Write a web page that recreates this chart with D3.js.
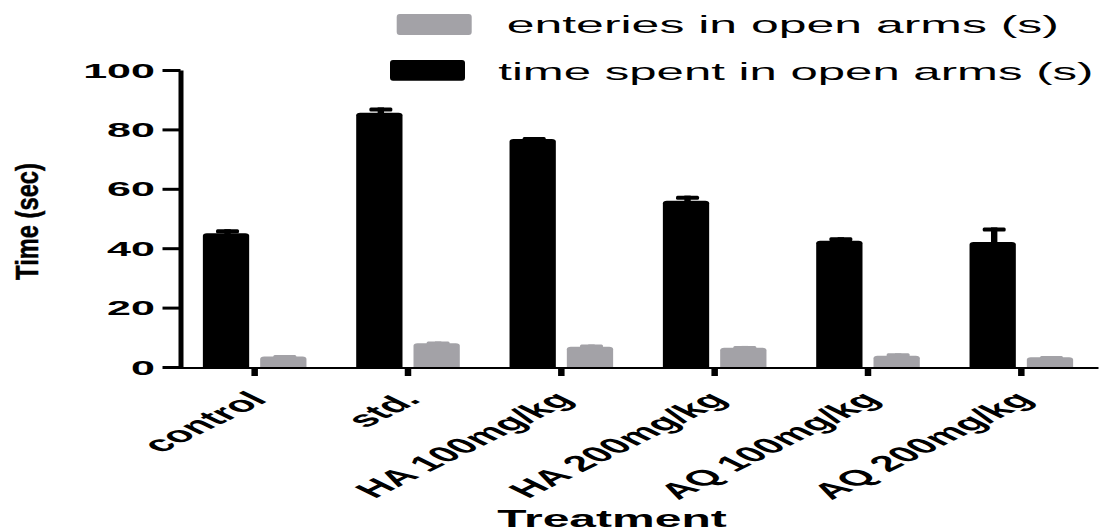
<!DOCTYPE html>
<html>
<head>
<meta charset="utf-8">
<script src="https://cdn.jsdelivr.net/npm/d3@7/dist/d3.min.js"></script>
<style>
  html, body { margin: 0; padding: 0; background: #fff; }
  svg { display: block; }
  text { font-family: "Liberation Sans", Arial, Helvetica, sans-serif; fill: #000; }
</style>
</head>
<body>
<svg id="chart" width="1109" height="530"></svg>
<script>
// Elevated plus maze results per treatment group (mean with SEM)
const categories = ["control", "std.", "HA 100mg/kg", "HA 200mg/kg", "AQ 100mg/kg", "AQ 200mg/kg"];
const timeSpent = [45.0, 85.6, 76.8, 56.0, 42.5, 42.1];
const timeSpentErr = [1.4, 1.8, 0.6, 1.7, 1.2, 4.9];
const entries = [3.5, 8.0, 6.8, 6.5, 3.8, 3.3];
const entriesErr = [0.5, 0.6, 0.8, 0.6, 0.8, 0.4];
const yTicks = [0, 20, 40, 60, 80, 100];
const seriesKeys = ["time", "entries"];
const legendLabels = ["enteries in open arms (s)", "time spent in open arms (s)"];
const xTitle = "Treatment";
const yTitle = "Time (sec)";

const colors = { time: "#000000", entries: "#a3a2a7" };
const SX = 2.05; // wide horizontal text aspect used throughout the figure

const svg = d3.select("#chart");

const x = d3.scaleBand().domain(categories).range([178, 1098]).padding(0);
const x1 = d3.scaleBand().domain(seriesKeys).range([0, x.bandwidth()])
  .paddingInner(0.192).paddingOuter(0.434);
const y = d3.scaleLinear().domain([0, 100]).range([367, 70]);

const rows = categories.map((c, i) => ({
  cat: c,
  time: { v: timeSpent[i], e: timeSpentErr[i] },
  entries: { v: entries[i], e: entriesErr[i] }
}));

// Bar shape with softly rounded top corners
function barPath(x0, y0, w, h, rx, ry) {
  return `M${x0},${y0 + h}V${y0 + ry}Q${x0},${y0} ${x0 + rx},${y0}` +
         `H${x0 + w - rx}Q${x0 + w},${y0} ${x0 + w},${y0 + ry}V${y0 + h}Z`;
}

const groups = svg.append("g").selectAll("g")
  .data(rows).join("g")
  .attr("transform", d => `translate(${x(d.cat)},0)`);

seriesKeys.forEach(k => {
  // bars
  groups.append("path")
    .attr("fill", colors[k])
    .attr("d", d => barPath(x1(k), y(d[k].v), x1.bandwidth(), y(0) - y(d[k].v), 4, 2.5));
  // error bar stem (upper half only)
  groups.append("rect")
    .attr("fill", colors[k])
    .attr("x", x1(k) + x1.bandwidth() / 2 + 1.5 - 3.2)
    .attr("width", 6.4)
    .attr("y", d => y(d[k].v + d[k].e))
    .attr("height", d => y(d[k].v) - y(d[k].v + d[k].e) + 1);
  // error bar cap
  groups.append("rect")
    .attr("fill", colors[k])
    .attr("x", x1(k) + x1.bandwidth() / 2 + 1.5 - 11.5)
    .attr("width", 23)
    .attr("y", d => y(d[k].v + d[k].e))
    .attr("height", 4)
    .attr("rx", 1.5);
});

// X axis
const xAxis = svg.append("g")
  .attr("transform", `translate(0,${y(0) + 0.5})`)
  .call(d3.axisBottom(x).tickSize(8.5).tickSizeOuter(0).tickFormat(""));
xAxis.select(".domain").attr("stroke", "#000").attr("stroke-width", 2);
xAxis.selectAll(".tick line").attr("stroke", "#000").attr("stroke-width", 6.5);

// Y axis
const yAxis = svg.append("g")
  .attr("transform", "translate(180.5,0)")
  .call(d3.axisLeft(y).tickValues(yTicks).tickSize(18).tickSizeOuter(0).tickFormat(""));
yAxis.select(".domain").attr("stroke", "#000").attr("stroke-width", 5);
yAxis.selectAll(".tick line").attr("stroke", "#000").attr("stroke-width", 3);

// Y tick labels
svg.append("g").selectAll("text")
  .data(yTicks).join("text")
  .attr("transform", d => `translate(155,${y(d) + 7.5}) scale(${SX},1)`)
  .attr("text-anchor", "end")
  .attr("font-weight", "bold")
  .attr("font-size", 21)
  .text(d => d);

// X tick labels, slanted
svg.append("g").selectAll("text")
  .data(categories).join("text")
  .attr("transform", d => `translate(${x(d) + x.bandwidth() / 2 + 14},401) scale(${SX},1) rotate(-45)`)
  .attr("text-anchor", "end")
  .attr("font-weight", "bold")
  .attr("font-size", 22)
  .text(d => d);

// Axis titles
svg.append("text")
  .attr("transform", `translate(612,527) scale(2.0,1)`)
  .attr("text-anchor", "middle")
  .attr("font-weight", "bold")
  .attr("font-size", 24)
  .text(xTitle);

svg.append("text")
  .attr("transform", `translate(37.5,221.5) scale(1.32,1) rotate(-90)`)
  .attr("text-anchor", "middle")
  .attr("font-weight", "bold")
  .attr("font-size", 23.7)
  .attr("stroke", "#000").attr("stroke-width", 0.4)
  .text(yTitle);

// Legend
const legendItems = [
  { key: "entries", label: legendLabels[0], rx: 396.7, ry: 14, rw: 75, rh: 21, tx: 506.7, ty: 33.3, fs: 24.6 },
  { key: "time", label: legendLabels[1], rx: 390, ry: 60, rw: 75, rh: 20.7, tx: 498.3, ty: 80, fs: 24.2 }
];
const legend = svg.append("g");
legendItems.forEach(it => {
  legend.append("rect")
    .attr("x", it.rx).attr("y", it.ry).attr("width", it.rw).attr("height", it.rh)
    .attr("rx", 3).attr("fill", colors[it.key]);
  legend.append("text")
    .attr("transform", `translate(${it.tx},${it.ty}) scale(2.03,1)`)
    .attr("font-size", it.fs)
    .text(it.label);
});
</script>
</body>
</html>
